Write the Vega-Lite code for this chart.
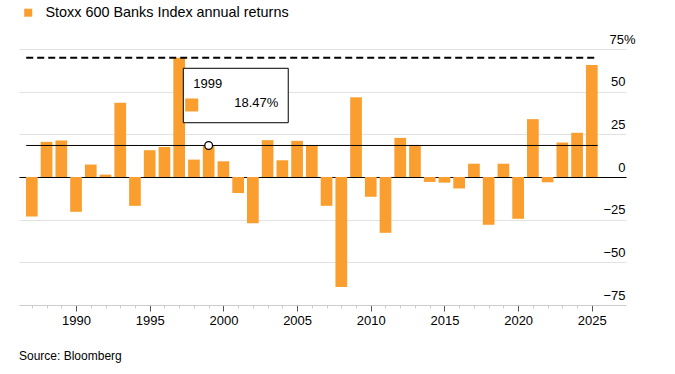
{
  "$schema": "https://vega.github.io/schema/vega-lite/v6.json",
  "width": 607,
  "height": 256,
  "autosize": {"type": "none"},
  "padding": {"left": 19, "top": 49, "right": 49, "bottom": 69},
  "background": "white",
  "config": {
    "font": "Liberation Sans",
    "view": {"stroke": null},
    "axis": {"labelColor": "#000", "labelFontSize": 13, "titleFontSize": 13},
    "axisX": {"labelOverlap": false, "labelBound": false}
  },
  "title": {
    "text": "Source: Bloomberg",
    "orient": "bottom",
    "anchor": "start",
    "fontSize": 12,
    "fontWeight": "normal",
    "color": "#000",
    "offset": 24
  },
  "data": {
    "values": [
      {"year": 1987, "ret": -23.1},
      {"year": 1988, "ret": 20.6},
      {"year": 1989, "ret": 21.4},
      {"year": 1990, "ret": -20.4},
      {"year": 1991, "ret": 7.3},
      {"year": 1992, "ret": 1.4},
      {"year": 1993, "ret": 43.5},
      {"year": 1994, "ret": -16.9},
      {"year": 1995, "ret": 15.7},
      {"year": 1996, "ret": 17.6},
      {"year": 1997, "ret": 69.8},
      {"year": 1998, "ret": 10.2},
      {"year": 1999, "ret": 18.47},
      {"year": 2000, "ret": 9.2},
      {"year": 2001, "ret": -9.4},
      {"year": 2002, "ret": -27.1},
      {"year": 2003, "ret": 21.6},
      {"year": 2004, "ret": 9.8},
      {"year": 2005, "ret": 21.2},
      {"year": 2006, "ret": 18.6},
      {"year": 2007, "ret": -16.9},
      {"year": 2008, "ret": -64.5},
      {"year": 2009, "ret": 46.7},
      {"year": 2010, "ret": -11.6},
      {"year": 2011, "ret": -32.7},
      {"year": 2012, "ret": 22.9},
      {"year": 2013, "ret": 18.8},
      {"year": 2014, "ret": -2.9},
      {"year": 2015, "ret": -3.3},
      {"year": 2016, "ret": -6.7},
      {"year": 2017, "ret": 7.8},
      {"year": 2018, "ret": -28.0},
      {"year": 2019, "ret": 7.8},
      {"year": 2020, "ret": -24.5},
      {"year": 2021, "ret": 33.9},
      {"year": 2022, "ret": -3.1},
      {"year": 2023, "ret": 20.2},
      {"year": 2024, "ret": 25.9},
      {"year": 2025, "ret": 65.6}
    ]
  },
  "encoding": {
    "x": {
      "field": "year",
      "type": "quantitative",
      "scale": {"domain": [1986.13, 2027.32], "nice": false, "zero": false, "padding": 0},
      "axis": {
        "title": null,
        "grid": false,
        "values": [1987,1988,1989,1990,1991,1992,1993,1994,1995,1996,1997,1998,1999,2000,2001,2002,2003,2004,2005,2006,2007,2008,2009,2010,2011,2012,2013,2014,2015,2016,2017,2018,2019,2020,2021,2022,2023,2024,2025],
        "format": "d",
        "labelExpr": "datum.value % 5 === 0 ? datum.label : ''",
        "domainColor": "#cccccc",
        "tickSize": {"condition": {"test": "datum.value % 5 === 0", "value": 6}, "value": 3},
        "tickColor": {"condition": {"test": "datum.value % 5 === 0", "value": "#555555"}, "value": "#cccccc"},
        "labelPadding": 3,
        "labelFlush": false,
        "labelOverlap": false,
        "labelBound": false
      }
    },
    "y": {
      "field": "ret",
      "type": "quantitative",
      "scale": {"domain": [-75, 75], "nice": false, "padding": 0},
      "axis": {
        "title": null,
        "orient": "right",
        "values": [-75, -50, -25, 0, 25, 50, 75],
        "domain": false,
        "ticks": false,
        "tickSize": 0,
        "labelAlign": {"condition": {"test": "datum.value === 75", "value": "left"}, "value": "right"},
        "labelPadding": {"condition": {"test": "datum.value === 75", "value": -17}, "value": -1},
        "labelBaseline": "alphabetic",
        "labelOffset": -6,
        "labelExpr": "datum.value === 75 ? '75%' : datum.label",
        "gridColor": {"condition": {"test": "datum.value === 0", "value": "#000000"}, "value": "#e2e2e2"},
        "labelFlush": false,
        "labelOverlap": false
      }
    }
  },
  "layer": [
    {
      "mark": {"type": "bar", "width": 11.7},
      "encoding": {
        "color": {
          "datum": "Stoxx 600 Banks Index annual returns",
          "scale": {"range": ["#fa9f2f"]},
          "legend": {
            "title": null,
            "orient": "none",
            "legendX": 2,
            "legendY": -43.5,
            "padding": 0,
            "symbolType": "square",
            "symbolSize": 64,
            "symbolStrokeWidth": 0,
            "labelFontSize": 14.4,
            "labelColor": "#000",
            "labelOffset": 10,
            "labelLimit": 500
          }
        }
      }
    },
    {
      "data": {"values": [{"year": 1986.62, "year2": 2025.4, "ret": 69.8}]},
      "mark": {"type": "rule", "color": "#000", "strokeWidth": 2, "strokeDash": [7, 4]},
      "encoding": {"x2": {"field": "year2"}}
    },
    {
      "data": {"values": [{"year": 1986.62, "year2": 2025.4, "ret": 18.47}]},
      "mark": {"type": "rule", "color": "#000", "strokeWidth": 1},
      "encoding": {"x2": {"field": "year2"}}
    },
    {
      "data": {"values": [{"year": 1999, "ret": 18.47}]},
      "mark": {"type": "point", "filled": true, "fill": "white", "stroke": "#000", "strokeWidth": 1.3, "size": 60, "opacity": 1},
      "encoding": {}
    },
    {
      "data": {"values": [{"year": 1997.28, "year2": 2004.4, "ret": 63.7, "ret2": 31.8}]},
      "mark": {"type": "rect", "fill": "white", "stroke": "#000", "strokeWidth": 1},
      "encoding": {"x2": {"field": "year2"}, "y2": {"field": "ret2"}}
    },
    {
      "data": {"values": [{"year": 1997.95, "ret": 54.3, "label": "1999"}]},
      "mark": {"type": "text", "align": "left", "baseline": "middle", "fontSize": 13, "color": "#000"},
      "encoding": {"text": {"field": "label"}}
    },
    {
      "data": {"values": [{"year": 1997.85, "ret": 42.2}]},
      "mark": {"type": "point", "shape": "square", "filled": true, "color": "#fa9f2f", "size": 169, "opacity": 1},
      "encoding": {}
    },
    {
      "data": {"values": [{"year": 2003.73, "ret": 43.2, "label": "18.47%"}]},
      "mark": {"type": "text", "align": "right", "baseline": "middle", "fontSize": 13, "color": "#000"},
      "encoding": {"text": {"field": "label"}}
    }
  ]
}
